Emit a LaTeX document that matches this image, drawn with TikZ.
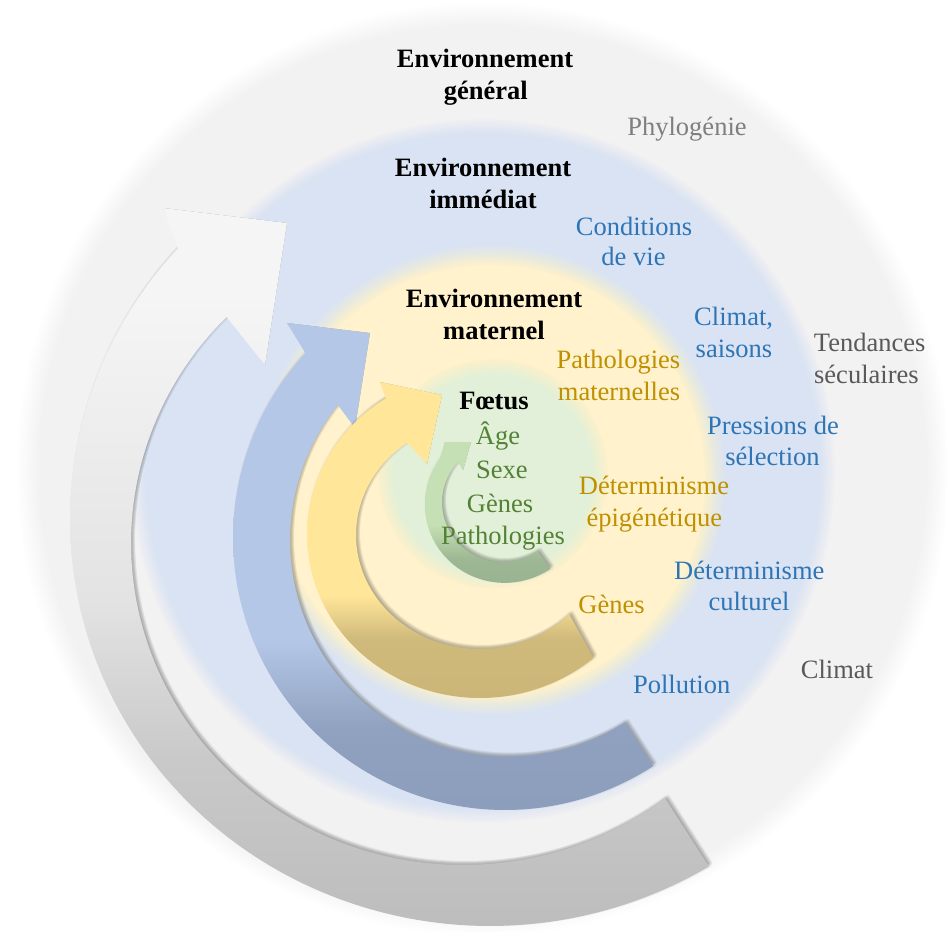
\documentclass[tikz,border=0pt]{standalone}
\usepackage{fontspec}
\setmainfont{Liberation Serif}
\definecolor{diskgray}{HTML}{F2F2F2}
\definecolor{diskblue}{HTML}{DAE3F3}
\definecolor{diskyellow}{HTML}{FFF2CC}
\definecolor{diskgreen}{HTML}{E2F0D9}
\definecolor{gA1}{HTML}{F5F5F5}
\definecolor{gA2}{HTML}{E3E3E3}
\definecolor{gA3}{HTML}{C9C9C9}
\definecolor{gA4}{HTML}{BDBDBD}
\definecolor{bA1}{HTML}{B4C7E7}
\definecolor{bA2}{HTML}{8FA1BE}
\definecolor{bA3}{HTML}{8C9EBB}
\definecolor{yA1}{HTML}{FFE699}
\definecolor{yA2}{HTML}{CFB97B}
\definecolor{yA3}{HTML}{CCB677}
\definecolor{vA1}{HTML}{C5E0B4}
\definecolor{vA2}{HTML}{9DB693}
\definecolor{vA3}{HTML}{9AB390}
\definecolor{txtblue}{HTML}{2E75B6}
\definecolor{txtgold}{HTML}{BF9000}
\definecolor{txtgreen}{HTML}{548235}
\definecolor{txtgrayA}{HTML}{7F7F7F}
\definecolor{txtgrayB}{HTML}{595959}
\pgfdeclareverticalshading{grayarrow}{100bp}{color(0bp)=(gA4); color(25bp)=(gA4); color(36.6bp)=(gA3); color(47.7bp)=(gA2); color(68.6bp)=(gA1); color(100bp)=(gA1)}
\pgfdeclareverticalshading{bluearrow}{100bp}{color(0bp)=(bA3); color(25bp)=(bA3); color(33.2bp)=(bA2); color(42.4bp)=(bA1); color(100bp)=(bA1)}
\pgfdeclareverticalshading{yellowarrow}{100bp}{color(0bp)=(yA3); color(25bp)=(yA3); color(34.2bp)=(yA2); color(41.3bp)=(yA1); color(100bp)=(yA1)}
\pgfdeclareverticalshading{greenarrow}{100bp}{color(0bp)=(vA3); color(25bp)=(vA3); color(33.2bp)=(vA2); color(45.6bp)=(vA1); color(100bp)=(vA1)}
\newcommand\softdisk[5]{%
  \foreach \k in {1,...,14}{%
    \pgfmathsetmacro\sdR{#4+#5-2*#5*(\k-1)/13}%
    \pgfmathsetmacro\sdO{1/(15-\k)}%
    \fill[#1,fill opacity=\sdO] (#2,#3) circle[radius=\sdR];}}
\newcommand\arrowpath{%
 plot[domain=\arTO:\arHO, samples=120, variable=\t]
   ({\arCX+\arAO*(1+(\arKO-1)*(\t-\arTO)/(\arHO-\arTO))*cos(\t)},
    {\arCY+\arBO*(1+(\arKO-1)*(\t-\arTO)/(\arHO-\arTO))*sin(\t)})
 -- (\arN-A) -- (\arN-B) -- (\arN-D) --
 plot[domain=\arHI:\arTI, samples=120, variable=\t]
   ({\arCXI+\arAI*(1+(\arKI-1)*(\t-\arTI)/(\arHI-\arTI))*cos(\t)},
    {\arCYI+\arBI*(1+(\arKI-1)*(\t-\arTI)/(\arHI-\arTI))*sin(\t)})
 -- cycle}
\newcommand\drawarrow[1]{%
  \foreach \dx/\dy in {1/-1,2/-2,3/-3,4/-2,2/-4,3/0,0/-3,4/-4}{%
    \fill[black,fill opacity=0.04,shift={(\dx,\dy)}] \arrowpath;}
  \shade[shading=#1] \arrowpath;}
\begin{document}
\begin{tikzpicture}[x=1pt,y=-1pt,
  lbl/.style={anchor=base,inner sep=0pt,font=\fontsize{26.5}{32}\selectfont},
  hdr/.style={lbl,font=\fontsize{26.5}{32}\selectfont\bfseries,text=black},
  bluetxt/.style={lbl,text=txtblue},
  goldtxt/.style={lbl,text=txtgold},
  greentxt/.style={lbl,text=txtgreen},
  grayAtxt/.style={lbl,text=txtgrayA},
  grayBtxt/.style={lbl,text=txtgrayB}]
\useasboundingbox (0,0) rectangle (946,932);
\fill[white] (0,0) rectangle (946,932);
% background disks
\softdisk{diskgray}{483}{469}{454}{12}
\softdisk{diskblue}{483}{471}{344}{8}
\softdisk{diskyellow}{490}{480}{225}{10}
\softdisk{diskgreen}{493}{474}{107}{8}
% gray arrow
\coordinate (gray-A) at (163,208);
\coordinate (gray-B) at (287,223);
\coordinate (gray-D) at (265,365);
\def\arN{gray}\def\arCX{490}\def\arCY{520}\def\arCXI{463}\def\arCYI{543}
\def\arAO{420}\def\arBO{406}\def\arKO{1}\def\arTO{58.6}\def\arHO{222}
\def\arAI{332}\def\arBI{322}\def\arKI{1}\def\arTI{52.5}\def\arHI{224.6}
\drawarrow{grayarrow}
% blue arrow
\coordinate (blue-A) at (287,323);
\coordinate (blue-B) at (370,333);
\coordinate (blue-D) at (355,428);
\def\arN{blue}\def\arCX{505}\def\arCY{538}\def\arCXI{505}\def\arCYI{538}
\def\arAO{272}\def\arBO{272}\def\arKO{1}\def\arTO{57}\def\arHO{222.8}
\def\arAI{220}\def\arBI{220}\def\arKI{0.97}\def\arTI{57}\def\arHI{218.5}
\drawarrow{bluearrow}
% yellow arrow
\coordinate (yel-A) at (380,382);
\coordinate (yel-B) at (442,395);
\coordinate (yel-D) at (427,464);
\def\arN{yel}\def\arCX{480}\def\arCY{535}\def\arCXI{480}\def\arCYI{535}
\def\arAO{173}\def\arBO{163}\def\arKO{1}\def\arTO{49}\def\arHO{237}
\def\arAI{124}\def\arBI{114}\def\arKI{1}\def\arTI{44}\def\arHI{234}
\drawarrow{yellowarrow}
% green arrow
\coordinate (grn-A) at (445,442);
\coordinate (grn-B) at (471,442);
\coordinate (grn-D) at (463,470);
\def\arN{grn}\def\arCX{501}\def\arCY{501}\def\arCXI{501}\def\arCYI{501}
\def\arAO{84}\def\arBO{84}\def\arKO{0.881}\def\arTO{54}\def\arHO{214}
\def\arAI{62}\def\arBI{62}\def\arKI{0.935}\def\arTI{54}\def\arHI{222}
\drawarrow{greenarrow}
% texts
\node[hdr] (gen1) at (485,67.6) {Environnement};
\node[hdr] (gen2) at (485.7,99.5) {général};
\node[grayAtxt] (phy) at (687,135.7) {Phylogénie};
\node[hdr] (imm1) at (483,176) {Environnement};
\node[hdr] (imm2) at (483,208) {immédiat};
\node[bluetxt] (cond1) at (634,235) {Conditions};
\node[bluetxt] (cond2) at (633.5,265.5) {de vie};
\node[hdr] (mat1) at (494,307.7) {Environnement};
\node[hdr] (mat2) at (494,339.7) {maternel};
\node[bluetxt] (clim1) at (733.6,325.8) {Climat,};
\node[bluetxt] (clim2) at (734,357) {saisons};
\node[grayBtxt] (tend1) at (869.7,351.7) {Tendances};
\node[grayBtxt] (tend2) at (866.4,383) {séculaires};
\node[goldtxt] (patm1) at (618.4,368) {Pathologies};
\node[goldtxt] (patm2) at (619,400) {maternelles};
\node[hdr] (foe) at (494,409) {Fœtus};
\node[greentxt] (age) at (498,444.6) {Âge};
\node[greentxt] (sexe) at (502,478.4) {Sexe};
\node[greentxt] (genf) at (500,512.8) {Gènes};
\node[greentxt] (pathf) at (503,544.8) {Pathologies};
\node[bluetxt] (pres1) at (773,434.4) {Pressions de};
\node[bluetxt] (pres2) at (772.5,465.8) {sélection};
\node[goldtxt] (epi1) at (654,494.7) {Déterminisme};
\node[goldtxt] (epi2) at (654.3,526.7) {épigénétique};
\node[bluetxt] (cult1) at (749.3,579) {Déterminisme};
\node[bluetxt] (cult2) at (749,610.6) {culturel};
\node[goldtxt] (genm) at (611.5,613.6) {Gènes};
\node[grayBtxt] (climat) at (837,678.7) {Climat};
\node[bluetxt] (poll) at (681.7,693.8) {Pollution};
\end{tikzpicture}
\end{document}
